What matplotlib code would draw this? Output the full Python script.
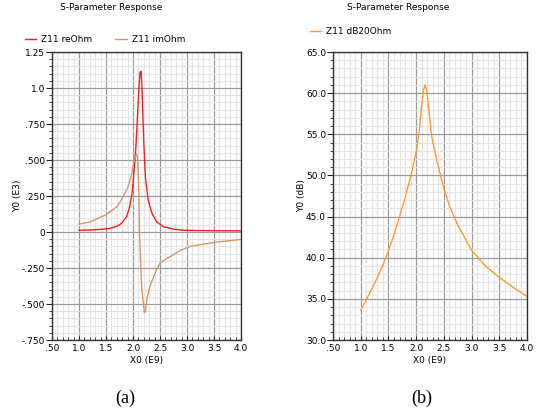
import matplotlib
matplotlib.use("Agg")
import matplotlib.pyplot as plt
from matplotlib.ticker import MultipleLocator, FixedLocator, FixedFormatter

# Z11 real / imaginary part (E3 ohm) vs frequency (E9 Hz)
re_freq = [1.0, 1.2, 1.4, 1.57, 1.7, 1.79, 1.88, 1.94, 1.99, 2.02, 2.05, 2.08,
           2.11, 2.13, 2.15, 2.17, 2.20, 2.23, 2.28, 2.35, 2.44, 2.56, 2.75,
           2.93, 3.2, 3.5, 4.0]
re_ohm = [0.012, 0.014, 0.018, 0.025, 0.04, 0.06, 0.106, 0.176, 0.29, 0.43,
          0.57, 0.78, 1.01, 1.11, 1.115, 0.96, 0.62, 0.38, 0.22, 0.13, 0.07,
          0.037, 0.02, 0.012, 0.010, 0.009, 0.008]

im_freq = [1.0, 1.2, 1.5, 1.7, 1.82, 1.91, 1.98, 2.02, 2.05, 2.07, 2.09, 2.11,
           2.12, 2.14, 2.16, 2.19, 2.21, 2.23, 2.26, 2.31, 2.41, 2.5, 2.69,
           2.87, 3.06, 3.3, 3.55, 3.8, 4.0]
im_ohm = [0.055, 0.07, 0.12, 0.175, 0.245, 0.315, 0.41, 0.50, 0.53, 0.54,
          0.50, 0.25, 0.0, -0.2, -0.38, -0.49, -0.56, -0.55, -0.46, -0.38,
          -0.285, -0.215, -0.17, -0.13, -0.10, -0.085, -0.07, -0.06, -0.052]

# Z11 magnitude in dB
db_freq = [1.0, 1.1, 1.2, 1.3, 1.4, 1.5, 1.6, 1.7, 1.8, 1.9, 2.0, 2.05, 2.1,
           2.13, 2.16, 2.19, 2.22, 2.28, 2.37, 2.5, 2.6, 2.75, 3.0, 3.25,
           3.5, 3.75, 4.0]
db_ohm = [33.6, 34.9, 36.2, 37.6, 39.1, 40.8, 42.8, 45.0, 47.3, 49.8, 52.8,
          55.0, 58.5, 60.3, 61.0, 60.3, 58.6, 54.7, 51.9, 48.4, 46.3, 44.0,
          40.9, 39.0, 37.6, 36.4, 35.3]

x_ticks = [0.5, 1.0, 1.5, 2.0, 2.5, 3.0, 3.5, 4.0]
x_labels = [".50", "1.0", "1.5", "2.0", "2.5", "3.0", "3.5", "4.0"]
a_ticks = [-0.75, -0.5, -0.25, 0, 0.25, 0.5, 0.75, 1.0, 1.25]
a_labels = ["-.750", "-.500", "-.250", "0", ".250", ".500", ".750", "1.0", "1.25"]
b_ticks = [30, 35, 40, 45, 50, 55, 60, 65]
b_labels = ["30.0", "35.0", "40.0", "45.0", "50.0", "55.0", "60.0", "65.0"]

RED = "#ff1a1a"
TAN = "#d8956a"
ORANGE = "#ff9a30"
FS = 6.5

W, H = 537, 416
fig = plt.figure(figsize=(W / 100, H / 100), dpi=100)


def px_axes(x0, y0, x1, y1):
    return fig.add_axes([x0 / W, 1 - y1 / H, (x1 - x0) / W, (y1 - y0) / H])


def style(ax, yticks, ylabels, yminor):
    ax.set_xlim(0.5, 4.0)
    ax.set_ylim(yticks[0], yticks[-1])
    ax.xaxis.set_major_locator(FixedLocator(x_ticks))
    ax.xaxis.set_major_formatter(FixedFormatter(x_labels))
    ax.yaxis.set_major_locator(FixedLocator(yticks))
    ax.yaxis.set_major_formatter(FixedFormatter(ylabels))
    ax.xaxis.set_minor_locator(MultipleLocator(0.1))
    ax.yaxis.set_minor_locator(MultipleLocator(yminor))
    ax.grid(which="minor", color="#e4e4e4", lw=0.8)
    ax.grid(which="major", color="#9a9a9a", lw=0.9)
    ax.set_axisbelow(True)
    ax.tick_params(axis="x", which="both", direction="in", labelsize=FS,
                   pad=3, color="#222222")
    ax.tick_params(axis="x", which="major", length=3)
    ax.tick_params(axis="x", which="minor", length=2)
    ax.tick_params(axis="y", which="both", direction="out", labelsize=FS,
                   pad=1, color="#222222")
    ax.tick_params(axis="y", which="major", length=4)
    ax.tick_params(axis="y", which="minor", length=2)
    for s in ax.spines.values():
        s.set_color("#333333")
        s.set_linewidth(1.0)
    ax.set_xlabel("X0 (E9)", fontsize=FS)
    ax.xaxis.set_label_coords(0.5, -0.057)


# (a) real / imaginary part
ax1 = px_axes(52, 52, 241, 340)
ax1.plot(re_freq, re_ohm, color=RED, lw=1.0, label="Z11 reOhm")
ax1.plot(im_freq, im_ohm, color=TAN, lw=1.0, label="Z11 imOhm")
style(ax1, a_ticks, a_labels, 0.05)
ax1.set_ylabel("Y0 (E3)", fontsize=FS)
ax1.yaxis.set_label_coords(-0.159, 0.5)
ax1.legend(loc="center left", bbox_to_anchor=(-0.145, 1.042), ncol=2,
           frameon=False, fontsize=FS, handlelength=1.3, handletextpad=0.5,
           columnspacing=2.6, borderpad=0, borderaxespad=0)

# (b) magnitude in dB
ax2 = px_axes(333, 52, 527, 340)
ax2.plot(db_freq, db_ohm, color=ORANGE, lw=1.0, label="Z11 dB20Ohm")
style(ax2, b_ticks, b_labels, 1.0)
ax2.set_ylabel("Y0 (dB)", fontsize=FS)
ax2.yaxis.set_label_coords(-0.139, 0.5)
ax2.legend(loc="center left", bbox_to_anchor=(-0.12, 1.07), frameon=False,
           fontsize=FS, handlelength=1.3, handletextpad=0.5, borderpad=0,
           borderaxespad=0)

fig.text(111 / W, 1 - 8 / H, "S-Parameter Response", fontsize=FS,
         ha="center", va="center")
fig.text(398 / W, 1 - 8 / H, "S-Parameter Response", fontsize=FS,
         ha="center", va="center")
fig.text(125 / W, 1 - 398 / H, "(a)", fontsize=13, family="Liberation Serif",
         ha="center", va="center")
fig.text(422 / W, 1 - 398 / H, "(b)", fontsize=13, family="Liberation Serif",
         ha="center", va="center")

fig.savefig("out.png", dpi=100)
